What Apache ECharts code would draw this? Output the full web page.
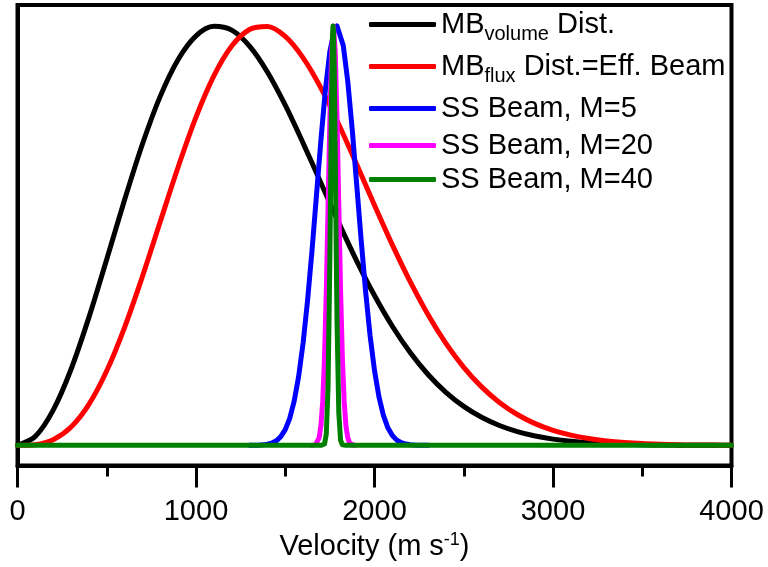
<!DOCTYPE html>
<html>
<head>
<meta charset="utf-8">
<script src="https://cdn.jsdelivr.net/npm/echarts@6/dist/echarts.min.js"></script>
<style>html,body{margin:0;padding:0;background:#fff}#c{width:768px;height:567px}</style>
</head>
<body>
<div id="c"></div>
<script>
// ---- data ----
const xTicks = [0, 1000, 2000, 3000, 4000];

const mbVel = [0,100,200,300,400,500,600,700,800,900,1000,1100,1200,1300,1400,1500,1600,1700,1800,1900,2000,
  2100,2200,2300,2400,2500,2600,2700,2800,2900,3000,3100,3200,3300,3400,3500,3600,3700,3800,3900,4000];
const mbVolume = [0,0.0215,0.0840,0.1815,0.3052,0.4439,0.5855,0.7185,0.8327,0.9202,0.9765,0.9993,0.9901,0.9520,
  0.8903,0.8111,0.7207,0.6255,0.5305,0.4401,0.3573,0.2841,0.2214,0.1690,0.1265,0.0929,0.0669,0.0473,0.0328,
  0.0223,0.0149,0.0098,0.0063,0.0040,0.0025,0.0015,0.0009,0.0005,0.0003,0.0002,0.0001];
const mbFlux = [0,0.0017,0.0135,0.0436,0.0978,0.1779,0.2815,0.4030,0.5338,0.6637,0.7825,0.8809,0.9521,0.9917,
  0.9988,0.9750,0.9240,0.8521,0.7652,0.6701,0.5726,0.4781,0.3903,0.3115,0.2433,0.1861,0.1394,0.1023,0.0736,
  0.0518,0.0358,0.0243,0.0162,0.0106,0.0068,0.0042,0.0026,0.0015,0.0009,0.0006,0.0003];

const m5Vel = [1300,1325,1350,1375,1400,1425,1450,1475,1500,1525,1550,1575,1600,1625,1650,1675,1700,1725,1750,
  1775,1790,1800,1825,1850,1875,1900,1925,1950,1975,2000,2025,2050,2075,2100,2125,2150,2175,2200,2225,2250,2275,2300];
const m5Val = [0.0001,0.0002,0.0005,0.0012,0.0026,0.0055,0.0109,0.0207,0.0374,0.0644,0.1054,0.1643,0.2441,0.3452,
  0.4650,0.5966,0.7288,0.8479,0.9394,0.9912,1.0,0.9961,0.9533,0.8688,0.7541,0.6233,0.4907,0.3679,0.2627,0.1786,
  0.1157,0.0713,0.0419,0.0234,0.0125,0.0063,0.0031,0.0014,0.0006,0.0003,0.0001,0];

const m20Vel = [1650,1660,1670,1680,1690,1700,1710,1720,1730,1740,1750,1760,1770,1780,1790,1800,1810,1820,1830,
  1840,1850,1860,1870,1880,1890];
const m20Val = [0.0001,0.0005,0.0019,0.0063,0.0183,0.0468,0.1054,0.2096,0.3679,0.5698,0.7788,0.9394,1.0,0.9394,
  0.7788,0.5698,0.3679,0.2096,0.1054,0.0468,0.0183,0.0063,0.0019,0.0005,0.0001];

const m40Vel = [0,1700,1710,1720,1730,1740,1750,1755,1760,1765,1768,1770,1775,1780,1785,1790,1800,1810,1820,1830,1840,4000];
const m40Val = [0,0,0.0002,0.0032,0.0271,0.1409,0.4449,0.6554,0.8521,0.9778,1.0,0.9900,0.8847,0.6977,0.4855,
  0.2982,0.0773,0.0122,0.0012,0.0001,0,0];

const seriesNames = ['MB volume', 'MB flux', 'SS Beam, M=5', 'SS Beam, M=20', 'SS Beam, M=40'];
const seriesColors = ['#000000', '#ff0000', '#0000ff', '#ff00ff', '#008000'];
const legendLabels = {
  'MB volume': '{m|MB}{s|volume}{m| Dist.}',
  'MB flux': '{m|MB}{s|flux}{m| Dist.=Eff. Beam}',
  'SS Beam, M=5': '{n|SS Beam, M=5}',
  'SS Beam, M=20': '{n|SS Beam, M=20}',
  'SS Beam, M=40': '{n|SS Beam, M=40}'
};
const xName = '{a|Velocity (m s}{b|-1}{a|)}';

// ---- build ----
const FONT = 'Liberation Sans, Arial, sans-serif';
function zip(xs, ys) { return xs.map((x, i) => [x, ys[i]]); }
const seriesData = [zip(mbVel, mbVolume), zip(mbVel, mbFlux), zip(m5Vel, m5Val), zip(m20Vel, m20Val), zip(m40Vel, m40Val)];
const smoothFlags = [0.3, 0.3, false, false, false];

const legendTops = [10, 52, 94, 131, 165];
const legendRich = {
  m: {fontSize: 29, lineHeight: 40, fontFamily: FONT, color: '#000'},
  s: {fontSize: 20, lineHeight: 20, verticalAlign: 'bottom', fontFamily: FONT, color: '#000'},
  n: {fontSize: 29, lineHeight: 30, fontFamily: FONT, color: '#000'}
};

const chart = echarts.init(document.getElementById('c'), null, {renderer: 'canvas'});
chart.setOption({
  animation: false,
  backgroundColor: '#fff',
  grid: {left: 17.5, right: 36.5, top: 5, bottom: 101.5, show: true, borderColor: '#000', borderWidth: 4,
         backgroundColor: 'transparent', containLabel: false, outerBoundsMode: 'none'},
  legend: seriesNames.map((nm, i) => ({
    data: [nm], left: 369, top: legendTops[i], padding: 0, orient: 'vertical',
    itemWidth: 67, itemHeight: 5, icon: 'roundRect', selectedMode: false,
    formatter: n => legendLabels[n],
    textStyle: {fontFamily: FONT, fontSize: 29, color: '#000', rich: legendRich}
  })),
  xAxis: {
    type: 'value', min: xTicks[0], max: xTicks[xTicks.length - 1], interval: 1000,
    name: xName, nameLocation: 'middle', nameGap: 59,
    nameTextStyle: {fontFamily: FONT, color: '#000', rich: {
      a: {fontSize: 29, lineHeight: 32, fontFamily: FONT, color: '#000'},
      b: {fontSize: 18, lineHeight: 18, verticalAlign: 'top', fontFamily: FONT, color: '#000'}
    }},
    axisLine: {show: true, onZero: false, lineStyle: {color: '#000', width: 4}},
    axisTick: {show: true, inside: false, length: 22, lineStyle: {color: '#000', width: 3}},
    minorTick: {show: true, splitNumber: 2, length: 11, lineStyle: {color: '#000', width: 3}},
    axisLabel: {show: true, margin: 31, fontSize: 29, lineHeight: 30, fontFamily: FONT, color: '#000',
                showMinLabel: true, showMaxLabel: true, hideOverlap: false,
                formatter: v => String(v)},
    splitLine: {show: false}
  },
  yAxis: {
    type: 'value', min: -0.048, max: 1.05,
    axisLine: {show: true, onZero: false, lineStyle: {color: '#000', width: 4}},
    axisTick: {show: false}, axisLabel: {show: false}, splitLine: {show: false}
  },
  series: seriesNames.map((nm, i) => ({
    name: nm, type: 'line', data: seriesData[i], smooth: smoothFlags[i],
    symbol: 'none', showSymbol: false, clip: true,
    color: seriesColors[i],
    lineStyle: {color: seriesColors[i], width: 5, cap: 'round', join: 'round'},
    z: 2 + i
  }))
});
</script>
</body>
</html>
